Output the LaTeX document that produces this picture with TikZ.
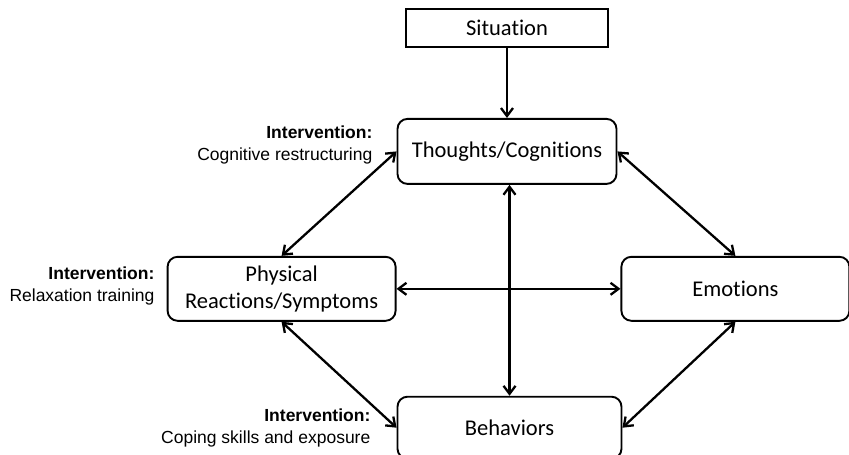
\documentclass[tikz,border=0pt]{standalone}
\usepackage{fontspec}
\setmainfont{Carlito}[Ligatures=NoCommon]
\newfontfamily\labelfont{Liberation Sans}
\usetikzlibrary{arrows.meta, positioning}

\tikzset{
  box/.style={draw, line width=1.9pt, rounded corners=10pt, align=center,
    minimum width=226pt, minimum height=64pt, inner sep=2pt,
    font=\fontsize{22.5}{27}\selectfont},
  link/.style={line width=2.3pt, {Straight Barb[length=8pt,width=12pt]}-{Straight Barb[length=8pt,width=12pt]}},
  feed/.style={line width=2.3pt, -{Straight Barb[length=8pt,width=12pt]}},
  lbl/.style={anchor=east, align=right, inner sep=0pt,
    font=\labelfont\fontsize{17.5}{22}\selectfont}
}

\begin{document}
\begin{tikzpicture}
\useasboundingbox (0pt,0pt) rectangle (849pt,-455pt);
\node[box, rounded corners=0pt, minimum width=202pt, minimum height=38pt] (sit) at (507pt,-28pt) {Situation};
\node[box, minimum width=219pt, minimum height=65pt, below=70pt of sit] (thought) {Thoughts/Cognitions};
\node[box, minimum width=228pt, below left=71pt and 0pt of thought] (phys) {Physical\\Reactions/Symptoms};
\node[box, minimum width=228pt, below right=71pt and 3pt of thought] (emo) {Emotions};
\node[box, minimum width=224pt, minimum height=62pt, below right=74pt and 0pt of phys] (behav) {Behaviors};

% interventions
\node[lbl] (cogint) at ([xshift=-24pt,yshift=6pt]thought.west) {\textbf{Intervention:}\\Cognitive restructuring};
\node[lbl] (relint) at ([xshift=-12pt,yshift=3pt]phys.west) {\textbf{Intervention:}\\Relaxation training};
\node[lbl] (copint) at ([xshift=-26pt]behav.west) {\textbf{Intervention:}\\Coping skills and exposure};

\draw[feed] (sit) -- (thought);
\draw[link] (thought.south -| behav.north) -- (behav.north);
\draw[link] (phys.east) -- (emo.west);
\draw[link] (thought.west) -- (phys.north);
\draw[link] (thought.east) -- (emo.north);
\draw[link] (emo.south) -- (behav.east);
\draw[link] (phys.south) -- (behav.west);
\end{tikzpicture}
\end{document}
